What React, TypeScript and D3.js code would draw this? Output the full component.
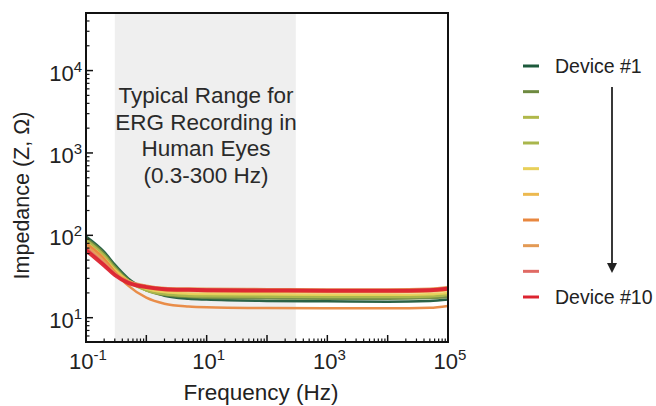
import React from "react";
import * as d3 from "d3";

const WIDTH = 656;
const HEIGHT = 406;
const PLOT = { left: 86, right: 448, top: 13, bottom: 342 };

const FREQS = [0.1, 0.2, 0.3, 0.5, 1, 2, 5, 10, 100, 1000, 1e4, 5e4, 1e5];

const DEVICES = ["Device #1", "#2", "#3", "#4", "#5", "#6", "#7", "#8", "#9", "Device #10"];
const COLORS = ["#1d5a3c", "#6e8a40", "#b0b84a", "#a9b64c", "#e8d05a", "#ecb94f", "#e8873f", "#e39a55", "#e06a64", "#dc2430"];

const D1 = [97, 63, 44, 30, 22, 18.5, 17, 16.6, 16, 15.8, 15.6, 15.9, 16.6];
const D2 = [92, 60, 42, 29, 21.5, 18.8, 17.8, 17.5, 17.2, 17, 17, 17.3, 17.8];
const D3 = [88, 57, 40, 28, 21.5, 19.2, 18.4, 18.2, 18, 17.8, 17.8, 18.1, 18.8];
const D4 = [85, 55, 39, 27.5, 21.5, 19.5, 18.8, 18.6, 18.4, 18.2, 18.2, 18.5, 19.2];
const D5 = [82, 53, 38, 28, 22.5, 20.5, 19.6, 19.4, 19.2, 19, 19, 19.3, 20];
const D6 = [78, 51, 37, 28, 23, 21.5, 21, 20.8, 20.6, 20.4, 20.4, 20.8, 21.6];
const D7 = [80, 52, 36, 24.5, 17.5, 14.8, 13.7, 13.4, 13.1, 13, 13, 13.2, 13.9];
const D8 = [74, 48, 35, 28, 24.5, 23, 22.6, 22.4, 22.2, 22, 22, 22.5, 23.6];
const D9 = [70, 45, 34, 27, 23.8, 22.5, 22, 21.8, 21.6, 21.5, 21.5, 21.9, 23];
const D10 = [66, 43, 33, 26.5, 23.5, 22.2, 21.8, 21.6, 21.4, 21.2, 21.2, 21.6, 22.5];
const SERIES = [D1, D2, D3, D4, D5, D6, D7, D8, D9, D10];

const ERG_RANGE = [0.3, 300];
const ANNOTATION = ["Typical Range for", "ERG Recording in", "Human Eyes", "(0.3-300 Hz)"];
const X_TICKS = [-1, 1, 3, 5];
const Y_TICKS = [1, 2, 3, 4];

const FONT = "Liberation Sans, Arial, sans-serif";

const App = () => {
  const x = d3.scaleLog().domain([0.1, 1e5]).range([PLOT.left, PLOT.right]);
  const y = d3.scaleLog().domain([5.07, 50000]).range([PLOT.bottom, PLOT.top]);

  const line = d3
    .line<number>()
    .x((_, i) => x(FREQS[i]))
    .y((d) => y(d))
    .curve(d3.curveMonotoneX);

  // minor ticks
  const xMinor: number[] = [];
  for (let e = -1; e < 5; e++) for (let m = 2; m <= 9; m++) xMinor.push(m * Math.pow(10, e));
  const xMajor = d3.range(-1, 6).map((e) => Math.pow(10, e));
  const yMinor: number[] = [];
  for (let e = 0; e <= 4; e++)
    for (let m = 2; m <= 9; m++) {
      const v = m * Math.pow(10, e);
      if (v > 5.07 && v < 50000) yMinor.push(v);
    }

  const legendY = d3.scalePoint<string>().domain(DEVICES.map((_, i) => String(i))).range([66, 297]);

  return (
    <div style={{ position: "fixed", left: 0, top: 0 }}>
      <svg width={WIDTH} height={HEIGHT} style={{ display: "block", background: "#fff" }} fontFamily={FONT}>
        {/* ERG band */}
        <rect
          x={x(ERG_RANGE[0])}
          y={PLOT.top}
          width={x(ERG_RANGE[1]) - x(ERG_RANGE[0])}
          height={PLOT.bottom - PLOT.top}
          fill="#efefef"
        />
        {ANNOTATION.map((t, i) => (
          <text key={i} x={206} y={103 + i * 26.5} textAnchor="middle" fontSize={22.5} fill="#2a2a2a">
            {t}
          </text>
        ))}

        {/* curves */}
        <defs>
          <clipPath id="clip">
            <rect x={PLOT.left} y={PLOT.top} width={PLOT.right - PLOT.left} height={PLOT.bottom - PLOT.top} />
          </clipPath>
        </defs>
        <g clipPath="url(#clip)">
          {SERIES.map((s, i) => (
            <path
              key={i}
              d={line(s) || ""}
              fill="none"
              stroke={COLORS[i]}
              strokeWidth={i === 9 ? 4 : 2.5}
              opacity={0.95}
            />
          ))}
        </g>

        {/* ticks */}
        {xMajor.map((v, i) => (
          <line key={"xM" + i} x1={x(v)} x2={x(v)} y1={PLOT.bottom} y2={PLOT.bottom - 7} stroke="#111" strokeWidth={1.5} />
        ))}
        {xMinor.map((v, i) => (
          <line key={"xm" + i} x1={x(v)} x2={x(v)} y1={PLOT.bottom} y2={PLOT.bottom - 3.5} stroke="#111" strokeWidth={1.2} />
        ))}
        {Y_TICKS.map((e) => (
          <line key={"yM" + e} x1={PLOT.left} x2={PLOT.left + 7} y1={y(Math.pow(10, e))} y2={y(Math.pow(10, e))} stroke="#111" strokeWidth={1.5} />
        ))}
        {yMinor.map((v, i) => (
          <line key={"ym" + i} x1={PLOT.left} x2={PLOT.left + 3.5} y1={y(v)} y2={y(v)} stroke="#111" strokeWidth={1.2} />
        ))}

        {/* frame */}
        <rect
          x={PLOT.left}
          y={PLOT.top}
          width={PLOT.right - PLOT.left}
          height={PLOT.bottom - PLOT.top}
          fill="none"
          stroke="#111"
          strokeWidth={2}
        />

        {/* tick labels */}
        {X_TICKS.map((e) => (
          <text key={"xl" + e} x={x(Math.pow(10, e)) + 2} y={369} textAnchor="middle" fontSize={22} fill="#222">
            10
            <tspan fontSize={15} dy={-9}>
              {e}
            </tspan>
          </text>
        ))}
        {Y_TICKS.map((e) => (
          <text key={"yl" + e} x={82} y={y(Math.pow(10, e)) + 10} textAnchor="end" fontSize={22} fill="#222">
            10
            <tspan fontSize={15} dy={-9}>
              {e}
            </tspan>
          </text>
        ))}

        {/* axis titles */}
        <text x={(PLOT.left + PLOT.right) / 2 - 6} y={400} textAnchor="middle" fontSize={22.5} fill="#222">
          Frequency (Hz)
        </text>
        <text
          transform={`translate(29,${(PLOT.top + PLOT.bottom) / 2 + 18}) rotate(-90)`}
          textAnchor="middle"
          fontSize={21.5}
          fill="#222"
        >
          Impedance (Z, Ω)
        </text>

        {/* legend */}
        {DEVICES.map((d, i) => (
          <g key={"lg" + i} transform={`translate(0,${legendY(String(i))})`}>
            <line x1={523} x2={539} y1={0} y2={0} stroke={COLORS[i]} strokeWidth={3} />
            {d.startsWith("Device") && (
              <text x={555} y={7} fontSize={19.5} fill="#222">
                {d}
              </text>
            )}
          </g>
        ))}
        <line x1={612} x2={612} y1={87} y2={264} stroke="#222" strokeWidth={1.8} />
        <path d="M607,263 L617,263 L612,273 Z" fill="#222" />
      </svg>
    </div>
  );
};

export default App;
